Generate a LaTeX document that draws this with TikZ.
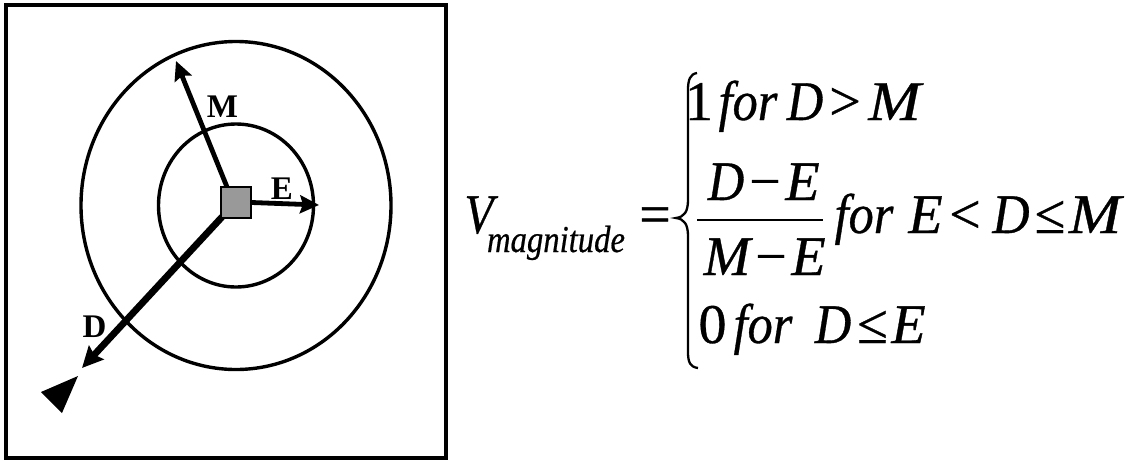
\documentclass[tikz,border=0pt]{standalone}
\usepackage{fontspec}
\setmainfont{Liberation Serif}
\newfontfamily\eqfont{Liberation Serif}[FakeBold=0.6]
\usetikzlibrary{arrows.meta}
\definecolor{sqgray}{RGB}{153,153,153}
\newcommand{\hsc}[2]{\scalebox{#1}[1]{#2}}
\tikzset{
  eq/.style={anchor=base, inner sep=0pt, font=\eqfont\fontsize{56}{60}\selectfont},
  eqi/.style={eq, font=\eqfont\fontsize{56}{60}\selectfont\itshape},
  lbl/.style={anchor=base, inner sep=0pt, font=\fontsize{33}{36}\selectfont\bfseries},
  ring/.style={line width=3.4pt},
  vec/.style={line width=4.8pt, -{Stealth[length=19pt,width=18pt,inset=3pt]}},
}
\begin{document}
\begin{tikzpicture}[x=1pt,y=-1pt]
\useasboundingbox (0,0) rectangle (1130,461);
% frame
\draw[line width=4pt] (6,5) rectangle (446,458);
% rings
\draw[ring] (236,205.5) ellipse [x radius=155, y radius=164];
\draw[ring] (236,205.5) ellipse [x radius=77.5, y radius=81.5];
% centre square
\node[draw=black, line width=1.3pt, fill=sqgray, minimum width=30pt, minimum height=31pt, inner sep=0pt] (sq) at (236,202.5) {};
% arrow ends
\coordinate (mstart) at (227,187);
\coordinate (mtip) at (176,61);
\coordinate (etip) at (319,205);
\coordinate (dstart) at (222,217);
\coordinate (dtip) at (82,368);
\draw[vec] (mstart) -- (mtip);
\draw[vec] (sq.east) -- (etip);
\draw[vec, line width=6.8pt, -{Stealth[length=21pt,width=20pt,inset=3pt]}] (dstart) -- (dtip);
% detached head
\fill (41,392) -- (78,376) -- (62,413) -- cycle;
% labels
\node[lbl] (lm) at (222.5,117) {M};
\node[lbl] (le) at (282,199) {E};
\node[lbl] (ld) at (94.5,337) {D};
% equation
\node[eqi] (v) at (479,233) {\hsc{0.85}{V}};
\node[anchor=base, inner sep=0pt] (sub) at (556,252) {\eqfont\fontsize{38}{40}\selectfont\itshape\hsc{0.86}{magnitude}};
\node[eq] (eqs) at (655,233) {=};
\draw[line width=2.3pt] (697,73) .. controls (690,74) and (688,80) .. (688,90) -- (688,200)
  .. controls (688,212) and (684,217) .. (676,218) .. controls (684,219) and (688,224) .. (688,236)
  -- (688,352) .. controls (688,362) and (690,367) .. (698,368);
% row 1
\node[eq] (r1a) at (699,120) {1};
\node[eqi] (r1b) at (748,120) {\hsc{0.9}{for}};
\node[eqi] (r1c) at (805,120) {\hsc{0.9}{D}};
\node[eq] (r1d) at (845,120) {>};
\node[eqi] (r1e) at (894.5,120) {\hsc{1.12}{M}};
% row 2 fraction
\node[eqi] (n1) at (726,200) {\hsc{0.9}{D}};
\node[eq] (n2) at (765,200) {−};
\node[eqi] (n3) at (802.5,200) {E};
\coordinate (barl) at (697,220);
\coordinate (barr) at (823,220);
\draw[line width=2.9pt] (barl) -- (barr);
\node[eqi] (d1) at (727,275) {M};
\node[eq] (d2) at (771,275) {−};
\node[eqi] (d3) at (808.5,275) {E};
% row 2 condition
\node[eqi] (r2a) at (864,233) {\hsc{0.9}{for}};
\node[eqi] (r2b) at (925.5,233) {E};
\node[eq] (r2c) at (965,233) {<};
\node[eqi] (r2d) at (1011,233) {\hsc{0.92}{D}};
\node[eq] (r2e) at (1050,233) {≤};
\node[eqi] (r2f) at (1095,233) {\hsc{1.12}{M}};
% row 3
\node[eq] (r3a) at (712.5,343) {0};
\node[eqi] (r3b) at (763,343) {\hsc{0.9}{for}};
\node[eqi] (r3c) at (833,343) {\hsc{0.9}{D}};
\node[eq] (r3d) at (872.5,343) {≤};
\node[eqi] (r3e) at (908.5,343) {E};
\end{tikzpicture}
\end{document}
